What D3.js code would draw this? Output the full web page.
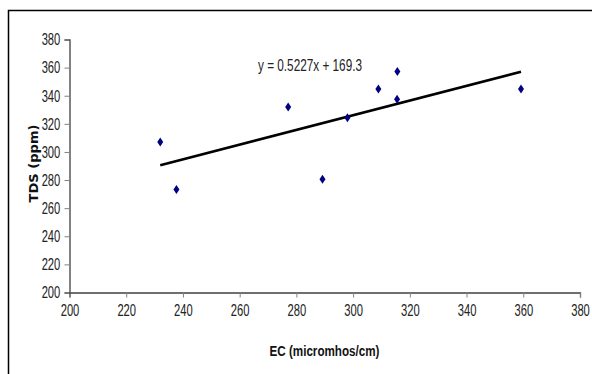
<!DOCTYPE html>
<html>
<head>
<meta charset="utf-8">
<script src="https://cdn.jsdelivr.net/npm/d3@7"></script>
<style>
  body { margin: 0; background: #fff; }
  svg { display: block; }
</style>
</head>
<body>
<svg id="chart" width="592" height="374"></svg>
<script>
// EC vs TDS readings
var ec  = [232, 237.7, 277.1, 289.2, 298, 308.9, 315.6, 315.5, 359.2];
var tds = [307, 273.2, 332, 280.5, 324.4, 344.8, 357.2, 337.5, 344.8];
var xTicks = [200, 220, 240, 260, 280, 300, 320, 340, 360, 380];
var yTicks = [200, 220, 240, 260, 280, 300, 320, 340, 360, 380];
var slope = 0.5227, intercept = 169.3;

var font = "'Liberation Sans', Arial, sans-serif";
var svg = d3.select("#chart");

// outer frame (cut off on the right and bottom)
svg.append("path")
   .attr("d", "M8.5,374 L8.5,10.5 L592,10.5")
   .style("fill", "none")
   .style("stroke", "black")
   .style("stroke-width", 1.5);

var x = d3.scaleLinear().domain([200, 380]).range([69.5, 580]);
var y = d3.scaleLinear().domain([200, 380]).range([292.5, 39.5]);

var xAxis = svg.append("g")
   .attr("transform", "translate(0,292.5)")
   .call(d3.axisBottom(x).tickValues(xTicks).tickSize(5).tickPadding(7).tickFormat(d3.format("d")));
var yAxis = svg.append("g")
   .attr("transform", "translate(69.5,0)")
   .call(d3.axisLeft(y).tickValues(yTicks).tickSize(5).tickPadding(0).tickFormat(d3.format("d")));

[xAxis, yAxis].forEach(function(a){
  a.select(".domain").style("stroke", "#404040").style("stroke-width", 1.3);
  a.selectAll(".tick line").style("stroke", "#808080");
  a.selectAll(".tick text").style("font-family", font).style("font-size", "16.5px").style("fill", "#222");
});
// narrow, tall tick labels
xAxis.selectAll(".tick text").attr("transform", "scale(0.68,1)");
yAxis.selectAll(".tick text").attr("x", -13.5).attr("transform", "scale(0.68,1)");

// trend line over the data range
var x0 = d3.min(ec), x1 = d3.max(ec);
svg.append("line")
   .attr("x1", x(x0)).attr("y1", y(slope * x0 + intercept))
   .attr("x2", x(x1)).attr("y2", y(slope * x1 + intercept))
   .style("stroke", "black")
   .style("stroke-width", 2.6);

// diamond markers
svg.selectAll("path.pt")
   .data(ec)
   .enter().append("path")
   .attr("class", "pt")
   .attr("d", function(d, i){
      var cx = x(d), cy = y(tds[i]);
      return "M" + cx + "," + (cy - 4.5) + "L" + (cx + 3) + "," + cy + "L" + cx + "," + (cy + 4.5) + "L" + (cx - 3) + "," + cy + "Z";
   })
   .style("fill", "#000080");

svg.append("text").attr("x", 258).attr("y", 71).text("y = 0.5227x + 169.3")
   .attr("textLength", 104).attr("lengthAdjust", "spacingAndGlyphs")
   .style("font-family", font).style("font-size", "16px").style("fill", "#222");

svg.append("text").attr("x", 269.5).attr("y", 356).text("EC (micromhos/cm)")
   .attr("textLength", 110).attr("lengthAdjust", "spacingAndGlyphs")
   .style("font-family", font).style("font-weight", "bold").style("font-size", "14.5px").style("fill", "#111");

svg.append("text").attr("transform", "translate(37.5,202.5) rotate(-90)").text("TDS (ppm)")
   .attr("textLength", 78).attr("lengthAdjust", "spacingAndGlyphs")
   .style("font-family", "'DejaVu Sans', sans-serif").style("font-weight", "bold").style("font-size", "12px").style("fill", "#111");
</script>
</body>
</html>
